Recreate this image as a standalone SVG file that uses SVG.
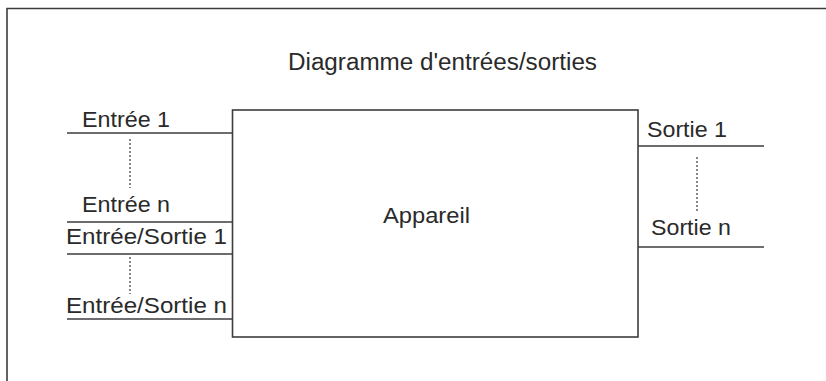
<svg xmlns="http://www.w3.org/2000/svg" width="826" height="381" viewBox="0 0 826 381">
  <style>
    .frame { fill: none; stroke: #3c3c40; stroke-width: 1.6; }
    .box { fill: #ffffff; stroke: #3c3c40; stroke-width: 1.6; }
    .wire { stroke: #3c3c40; stroke-width: 1.6; fill: none; }
    .dots { stroke: #555; stroke-width: 1.4; stroke-dasharray: 2 2; fill: none; }
    text { font-family: "Liberation Sans", Arial, sans-serif; fill: #2a2a2a; }
    .label { font-size: 21.5px; }
    .title { font-size: 23px; }
  </style>
  <rect width="826" height="381" fill="#ffffff"/>

  <!-- outer frame (top and left edges) -->
  <path class="frame" d="M7,381 V8.5 H826"/>

  <text class="title" x="288" y="70" textLength="309" lengthAdjust="spacingAndGlyphs">Diagramme d'entrées/sorties</text>

  <g id="device">
    <rect class="box" x="232.5" y="110" width="405.5" height="227"/>
    <text class="label" x="383" y="223" textLength="87" lengthAdjust="spacingAndGlyphs">Appareil</text>
  </g>

  <g id="connectors">
    <line class="wire" x1="67" y1="133" x2="232.5" y2="133"/>
    <line class="wire" x1="67" y1="222" x2="232.5" y2="222"/>
    <line class="wire" x1="67" y1="254" x2="232.5" y2="254"/>
    <line class="wire" x1="67" y1="319" x2="232.5" y2="319"/>
    <line class="wire" x1="638" y1="146" x2="764" y2="146"/>
    <line class="wire" x1="638" y1="247" x2="764" y2="247"/>
    <line class="dots" x1="130" y1="139" x2="130" y2="188"/>
    <line class="dots" x1="130" y1="257" x2="130" y2="294"/>
    <line class="dots" x1="697" y1="157" x2="697" y2="211"/>
  </g>

  <g id="input-1"><text class="label" x="82" y="127" textLength="88" lengthAdjust="spacingAndGlyphs">Entrée 1</text></g>
  <g id="input-n"><text class="label" x="82" y="212" textLength="88" lengthAdjust="spacingAndGlyphs">Entrée n</text></g>
  <g id="io-1"><text class="label" x="66" y="244" textLength="161" lengthAdjust="spacingAndGlyphs">Entrée/Sortie 1</text></g>
  <g id="io-n"><text class="label" x="66" y="313" textLength="161" lengthAdjust="spacingAndGlyphs">Entrée/Sortie n</text></g>
  <g id="output-1"><text class="label" x="647" y="137" textLength="80" lengthAdjust="spacingAndGlyphs">Sortie 1</text></g>
  <g id="output-n"><text class="label" x="651" y="235" textLength="80" lengthAdjust="spacingAndGlyphs">Sortie n</text></g>
</svg>
